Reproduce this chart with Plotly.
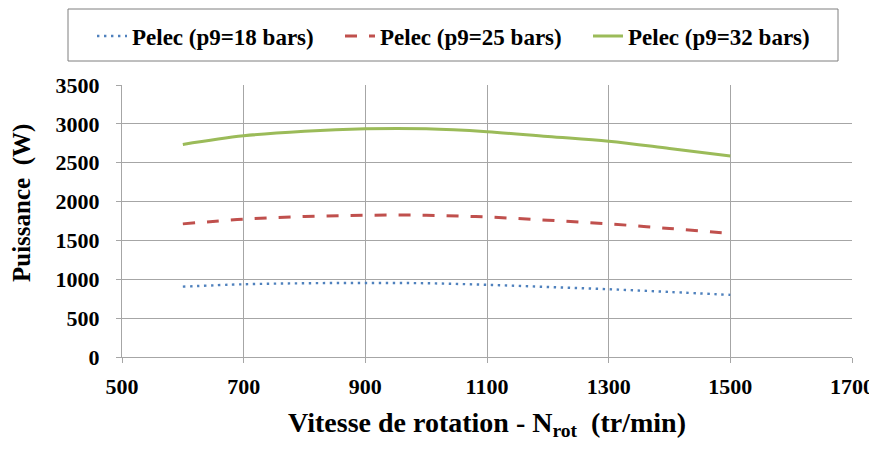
import plotly.graph_objects as go

x_rpm = [600, 700, 800, 900, 1000, 1100, 1200, 1300, 1400, 1500]
p_18 = [905, 936, 949, 953, 949, 929, 901, 872, 837, 799]
p_25 = [1713, 1773, 1808, 1824, 1824, 1801, 1760, 1713, 1654, 1590]
p_32 = [2735, 2846, 2905, 2936, 2936, 2899, 2837, 2777, 2683, 2585]
names = ["Pelec (p9=18 bars)", "Pelec (p9=25 bars)", "Pelec (p9=32 bars)"]
y_title = "Puissance\u00a0 (W)"
x_title = "Vitesse de rotation - N<sub>rot</sub>\u00a0 (tr/min)"

FONT = "Liberation Serif, Times New Roman, DejaVu Serif, serif"
W, H = 869, 443
L, R, T, B = 114, 25, 77, 94
PW, PH = W - L - R, H - T - B


def leg(xpx):
    return dict(orientation="h", xref="container", yref="container",
                x=xpx / W, xanchor="left", y=1 - 28 / H, yanchor="middle",
                font=dict(family=FONT, size=23, color="black"),
                bgcolor="rgba(0,0,0,0)", borderwidth=0)


fig = go.Figure()
fig.add_trace(go.Scatter(x=x_rpm, y=p_18, name="<b>" + names[0] + "</b>", mode="lines",
                         legend="legend",
                         line=dict(color="#4F81BD", width=2.4, dash="2.4px,4.6px", shape="spline")))
fig.add_trace(go.Scatter(x=x_rpm, y=p_25, name="<b>" + names[1] + "</b>", mode="lines",
                         legend="legend2",
                         line=dict(color="#C0504D", width=3, dash="12px,12px", shape="spline")))
fig.add_trace(go.Scatter(x=x_rpm, y=p_32, name="<b>" + names[2] + "</b>", mode="lines",
                         legend="legend3",
                         line=dict(color="#9BBB59", width=3, shape="spline")))

fig.update_layout(
    width=W, height=H,
    margin=dict(l=L, r=R, t=T, b=B),
    paper_bgcolor="white", plot_bgcolor="white",
    font=dict(family=FONT, color="black"),
    showlegend=True,
    legend=leg(84), legend2=leg(332), legend3=leg(580),
    shapes=[dict(type="rect", xref="paper", yref="paper",
                 x0=(60 - L) / PW, x1=(830 - L) / PW,
                 y0=(H - B - 53) / PH, y1=(H - B - 1) / PH,
                 line=dict(color="#7F7F7F", width=1), fillcolor="rgba(0,0,0,0)")],
    annotations=[dict(text="<b>" + y_title + "</b>", textangle=-90,
                      xref="paper", yref="paper",
                      x=(14 - L) / PW, y=(H - B - 195) / PH,
                      xanchor="center", yanchor="middle", showarrow=False,
                      font=dict(family=FONT, size=25, color="black"))],
)
fig.update_xaxes(range=[500, 1700], dtick=200, tick0=500,
                 showgrid=True, gridcolor="#A6A6A6", gridwidth=1,
                 showline=True, linecolor="#A6A6A6", mirror=False,
                 ticks="outside", ticklen=5, tickcolor="#A6A6A6",
                 zeroline=False, automargin=False, ticklabelstandoff=5,
                 tickprefix="<b>", ticksuffix="</b>",
                 tickfont=dict(family=FONT, size=22, color="black"),
                 title=dict(text="<b>" + x_title + "</b>",
                            font=dict(family=FONT, size=28, color="black"),
                            standoff=13))
fig.update_yaxes(range=[0, 3500], dtick=500,
                 showgrid=True, gridcolor="#A6A6A6", gridwidth=1,
                 showline=True, linecolor="#A6A6A6",
                 ticks="outside", ticklen=5, tickcolor="#A6A6A6",
                 zeroline=False, automargin=False, ticklabelstandoff=12,
                 tickprefix="<b>", ticksuffix="</b>",
                 tickfont=dict(family=FONT, size=22, color="black"))

fig.write_html("out.html")
